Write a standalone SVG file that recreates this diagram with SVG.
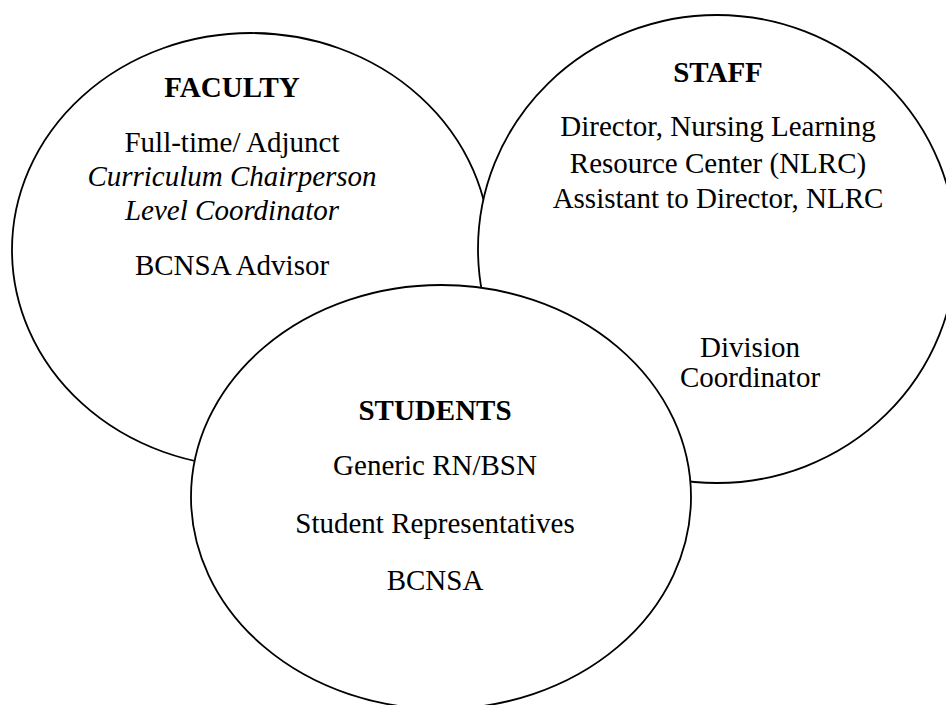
<svg xmlns="http://www.w3.org/2000/svg" width="946" height="705" viewBox="0 0 946 705">
<style>
  .circle { fill: #ffffff; stroke: #000000; stroke-width: 1.8; }
  .t { font-family: "Liberation Serif", "Times New Roman", serif; font-size: 29px; fill: #000000; text-anchor: middle; }
  .h { font-weight: bold; }
  .i { font-style: italic; }
</style>
<rect x="0" y="0" width="946" height="705" fill="#ffffff"/>
<g id="faculty">
  <ellipse class="circle" cx="251" cy="250" rx="239" ry="217"/>
  <text class="t h" x="232" y="97">FACULTY</text>
  <text class="t" x="232" y="152">Full-time/ Adjunct</text>
  <text class="t i" x="232" y="186">Curriculum Chairperson</text>
  <text class="t i" x="232" y="220">Level Coordinator</text>
  <text class="t" x="232" y="275">BCNSA Advisor</text>
</g>
<g id="staff">
  <ellipse class="circle" cx="717" cy="249" rx="239" ry="234"/>
  <text class="t h" x="718" y="82">STAFF</text>
  <text class="t" x="718" y="136">Director, Nursing Learning</text>
  <text class="t" x="718" y="173">Resource Center (NLRC)</text>
  <text class="t" x="718" y="208">Assistant to Director, NLRC</text>
  <text class="t" x="750" y="357">Division</text>
  <text class="t" x="750" y="387">Coordinator</text>
</g>
<g id="students">
  <ellipse class="circle" cx="441" cy="497" rx="250" ry="212"/>
  <text class="t h" x="435" y="420">STUDENTS</text>
  <text class="t" x="435" y="475">Generic RN/BSN</text>
  <text class="t" x="435" y="533">Student Representatives</text>
  <text class="t" x="435" y="590">BCNSA</text>
</g>
<g id="connectors"></g>
</svg>
